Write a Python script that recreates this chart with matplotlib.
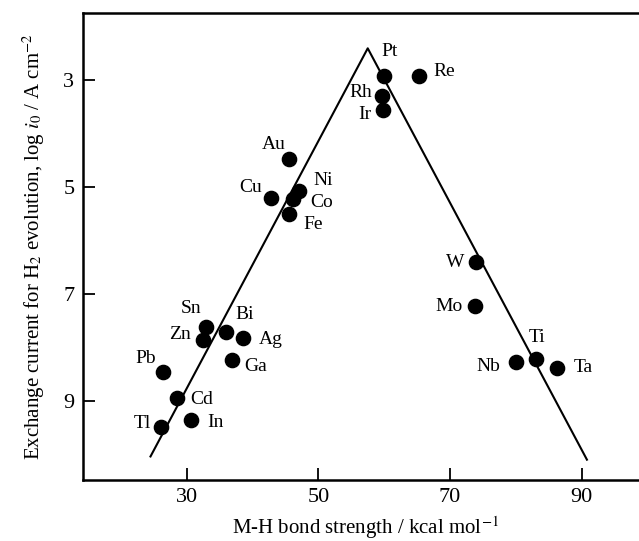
import numpy as np
import matplotlib
matplotlib.use("Agg")
import matplotlib.pyplot as plt

plt.rcParams['font.family'] = ['Liberation Serif', 'DejaVu Serif']
plt.rcParams['mathtext.fontset'] = 'stix'

# metals, M-H bond strength (kcal/mol) and log i0
metals = ['Pt', 'Re', 'Rh', 'Ir', 'Au', 'Ni', 'Co', 'Fe', 'Cu',
          'Sn', 'Zn', 'Bi', 'Ag', 'Ga', 'Pb', 'Cd', 'Tl', 'In',
          'W', 'Mo', 'Nb', 'Ti', 'Ta']
bond = [59.9, 65.3, 59.6, 59.8, 45.6, 47.0, 46.1, 45.5, 42.8,
        33.0, 32.4, 35.9, 38.6, 36.9, 26.4, 28.5, 26.05, 30.6,
        73.9, 73.8, 80.0, 83.1, 86.2]
log_i0 = [2.92, 2.92, 3.30, 3.56, 4.48, 5.07, 5.23, 5.51, 5.20,
          7.62, 7.86, 7.72, 7.82, 8.23, 8.46, 8.95, 9.48, 9.36,
          6.41, 7.22, 8.27, 8.21, 8.38]

# volcano lines
volcano_x = [24.5, 57.5, 90.8]
volcano_y = [10.04, 2.41, 10.10]

# label offsets in pixels
offsets = {'Pt': (6, 24), 'Re': (25, 4), 'Rh': (-21, 3), 'Ir': (-18, -5),
           'Au': (-16, 15), 'Ni': (25, 10), 'Co': (29, -3), 'Fe': (24, -10),
           'Cu': (-20, 10), 'Sn': (-15, 19), 'Zn': (-23, 5), 'Bi': (19, 18),
           'Ag': (27, -2), 'Ga': (23, -7), 'Pb': (-17, 13), 'Cd': (25, -1),
           'Tl': (-18, 3), 'In': (25, -2), 'W': (-21, 0), 'Mo': (-26, -1),
           'Nb': (-28, -5), 'Ti': (1, 21), 'Ta': (27, 0)}

fig = plt.figure(figsize=(6.39, 5.41), dpi=100)
ax = fig.add_axes([82.7/639, 61/541, (647.5-82.7)/639, 467/541])

ax.plot(volcano_x, volcano_y, color='black', lw=1.5)
ax.scatter(bond, log_i0, s=105, color='black', zorder=3)

for m, x, y in zip(metals, bond, log_i0):
    dx, dy = offsets[m]
    ax.annotate(m, (x, y), xytext=(dx, dy), textcoords='offset pixels',
                ha='center', va='center', fontsize=14)

ax.set_xlim(14.2, 100)
ax.set_ylim(10.48, 1.75)
ax.set_xticks([30, 50, 70, 90])
ax.set_yticks([3, 5, 7, 9])
ax.tick_params(direction='in', length=8.5, width=1.3, labelsize=16, pad=6)
for s in ax.spines.values():
    s.set_linewidth(1.8)

ax.set_xlabel('M-H bond strength / kcal mol$^{-1}$', fontsize=15, labelpad=5)
ax.set_ylabel('Exchange current for H$_2$ evolution, log $i_0$ / A cm$^{-2}$',
              fontsize=15, labelpad=12)

fig.savefig('out.png', dpi=100)
